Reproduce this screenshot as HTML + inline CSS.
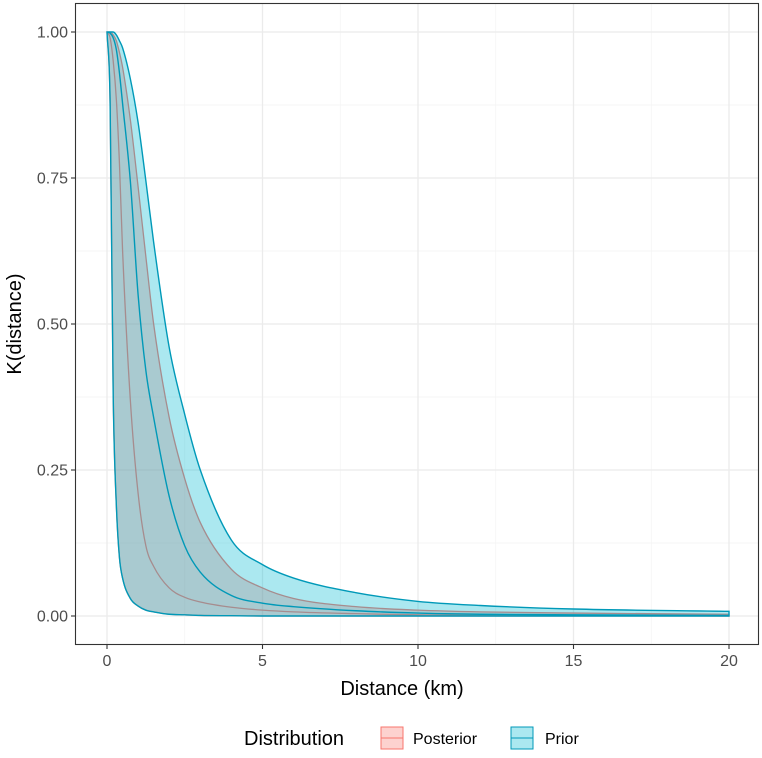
<!DOCTYPE html>
<html><head><meta charset="utf-8"><style>
html,body{margin:0;padding:0;background:#fff;}
svg text{font-family:"Liberation Sans",Arial,sans-serif;}
</style></head><body>
<svg id="chart" width="762" height="753" xmlns="http://www.w3.org/2000/svg">
<rect x="0" y="0" width="762" height="753" fill="#fff"/>
<g id="grid"></g>
<g id="series"></g>
<rect x="75.5" y="3.5" width="683" height="641" fill="none" stroke="#333" stroke-width="1.1"/>
<g id="axes"></g>
<text x="402" y="695" text-anchor="middle" font-size="20" fill="#000">Distance (km)</text>
<text transform="translate(21,324) rotate(-90)" text-anchor="middle" font-size="20" fill="#000">K(distance)</text>
<g>
<text x="244" y="745" font-size="20" fill="#000">Distribution</text>
<g>
<rect x="381" y="727" width="22" height="22" fill="rgba(248,118,109,0.33)" stroke="#F8766D" stroke-width="1"/>
<line x1="381" y1="738" x2="403" y2="738" stroke="#F8766D" stroke-width="1"/>
<text x="413" y="744" font-size="16" fill="#000">Posterior</text>
</g>
<g>
<rect x="511" y="727" width="22" height="22" fill="rgba(0,184,210,0.33)" stroke="#0099B8" stroke-width="1"/>
<line x1="511" y1="738" x2="533" y2="738" stroke="#0099B8" stroke-width="1"/>
<text x="545" y="744" font-size="16" fill="#000">Prior</text>
</g>
</g>
</svg>
<script>
const distances = [0,0.1,0.2,0.3,0.4,0.5,0.75,1,1.25,1.5,2,2.5,3,4,5,6,8,10,12,15,20];
const lowerBound = [1,0.878,0.375,0.19,0.1,0.065,0.03,0.017,0.01,0.007,0.003,0.002,0.001,0.0005,0,0,0,0,0,0,0];
const posteriorMedian = [1,0.99,0.95,0.885,0.775,0.627,0.37,0.21,0.12,0.085,0.048,0.032,0.024,0.015,0.01,0.007,0.004,0.002,0.001,0.001,0];
const posteriorUpper = [1,1,0.995,0.985,0.965,0.94,0.85,0.735,0.615,0.5,0.34,0.235,0.16,0.08,0.048,0.03,0.016,0.01,0.007,0.005,0.003];
const priorMedian = [1,0.998,0.99,0.97,0.93,0.878,0.745,0.55,0.42,0.34,0.205,0.12,0.075,0.035,0.022,0.016,0.009,0.005,0.003,0.002,0.001];
const priorUpper = [1,1,1,0.995,0.985,0.973,0.92,0.845,0.745,0.64,0.46,0.345,0.25,0.13,0.088,0.065,0.04,0.025,0.018,0.012,0.008];
const xTicks = [0,5,10,15,20];
const xTickLabels = ["0","5","10","15","20"];
const yTicks = [0,0.25,0.5,0.75,1];
const yTickLabels = ["0.00","0.25","0.50","0.75","1.00"];

const NS="http://www.w3.org/2000/svg";
const X0=107, X1=729, Y0=616, Y1=32;
function sx(d){return X0+(X1-X0)*d/20;}
function sy(k){return Y0-(Y0-Y1)*k;}
function mk(tag,attrs,parent){const e=document.createElementNS(NS,tag);for(const k in attrs)e.setAttribute(k,attrs[k]);parent.appendChild(e);return e;}

function monoPath(xs,ys,move){
  const n=xs.length, dx=[], m=[], t=[];
  for(let i=0;i<n-1;i++){dx.push(xs[i+1]-xs[i]);m.push((ys[i+1]-ys[i])/dx[i]);}
  t[0]=m[0];t[n-1]=m[n-2];
  for(let i=1;i<n-1;i++){t[i]=(m[i-1]*m[i]<=0)?0:(m[i-1]+m[i])/2;}
  for(let i=0;i<n-1;i++){if(m[i]===0){t[i]=0;t[i+1]=0;continue;}
    const a=t[i]/m[i],b=t[i+1]/m[i],s=a*a+b*b;if(s>9){const tt=3/Math.sqrt(s);t[i]=tt*a*m[i];t[i+1]=tt*b*m[i];}}
  let p=(move?"M":"L")+xs[0].toFixed(2)+","+ys[0].toFixed(2);
  for(let i=0;i<n-1;i++){const h=dx[i];
    p+=" C"+(xs[i]+h/3).toFixed(2)+","+(ys[i]+t[i]*h/3).toFixed(2)+" "+(xs[i+1]-h/3).toFixed(2)+","+(ys[i+1]-t[i+1]*h/3).toFixed(2)+" "+xs[i+1].toFixed(2)+","+ys[i+1].toFixed(2);}
  return p;
}
function linePath(vals){return monoPath(distances.map(sx),vals.map(sy),true);}
function ribbonPath(lo,hi){
  const xs=distances.map(sx);
  let p=monoPath(xs,hi.map(sy),true);
  p+=" "+monoPath(xs.slice().reverse(),lo.map(sy).reverse(),false)+" Z";
  return p;
}

const grid=document.getElementById('grid');
[0.125,0.375,0.625,0.875].forEach(v=>{const l=mk('line',{x1:76,x2:758,y1:sy(v),y2:sy(v),stroke:'#f3f3f3','stroke-width':0.7},grid);

});
[2.5,7.5,12.5,17.5].forEach(v=>{const l=mk('line',{x1:sx(v),x2:sx(v),y1:4,y2:644,stroke:'#f3f3f3','stroke-width':0.7},grid);

});
yTicks.forEach(v=>{const l=mk('line',{x1:76,x2:758,y1:sy(v),y2:sy(v),stroke:'#ebebeb','stroke-width':1.3},grid);

});
xTicks.forEach(v=>{const l=mk('line',{x1:sx(v),x2:sx(v),y1:4,y2:644,stroke:'#ebebeb','stroke-width':1.3},grid);

});

const S=document.getElementById('series');
const pr=mk('path',{d:ribbonPath(lowerBound,posteriorUpper),fill:'rgba(248,118,109,0.33)',stroke:'#F8766D','stroke-width':1.3},S);


const pm=mk('path',{d:linePath(posteriorMedian),fill:'none',stroke:'#F8766D','stroke-width':1.3},S);


const rr=mk('path',{d:ribbonPath(lowerBound,priorUpper),fill:'rgba(0,184,210,0.33)',stroke:'#0099B8','stroke-width':1.4},S);


const rm=mk('path',{d:linePath(priorMedian),fill:'none',stroke:'#0099B8','stroke-width':1.4},S);



const A=document.getElementById('axes');
yTicks.forEach((v,i)=>{
  const t=mk('line',{x1:71,x2:75,y1:sy(v),y2:sy(v),stroke:'#333','stroke-width':1.1},A);
  
  
  const tx=mk('text',{x:68,y:sy(v)+5.5,'text-anchor':'end','font-size':16,fill:'#4d4d4d'},A);
  tx.textContent=yTickLabels[i];
  
  
});
xTicks.forEach((v,i)=>{
  const t=mk('line',{x1:sx(v),x2:sx(v),y1:645,y2:649,stroke:'#333','stroke-width':1.1},A);
  
  
  const tx=mk('text',{x:sx(v),y:666,'text-anchor':'middle','font-size':16,fill:'#4d4d4d'},A);
  tx.textContent=xTickLabels[i];
  
  
});
</script>
</body></html>
